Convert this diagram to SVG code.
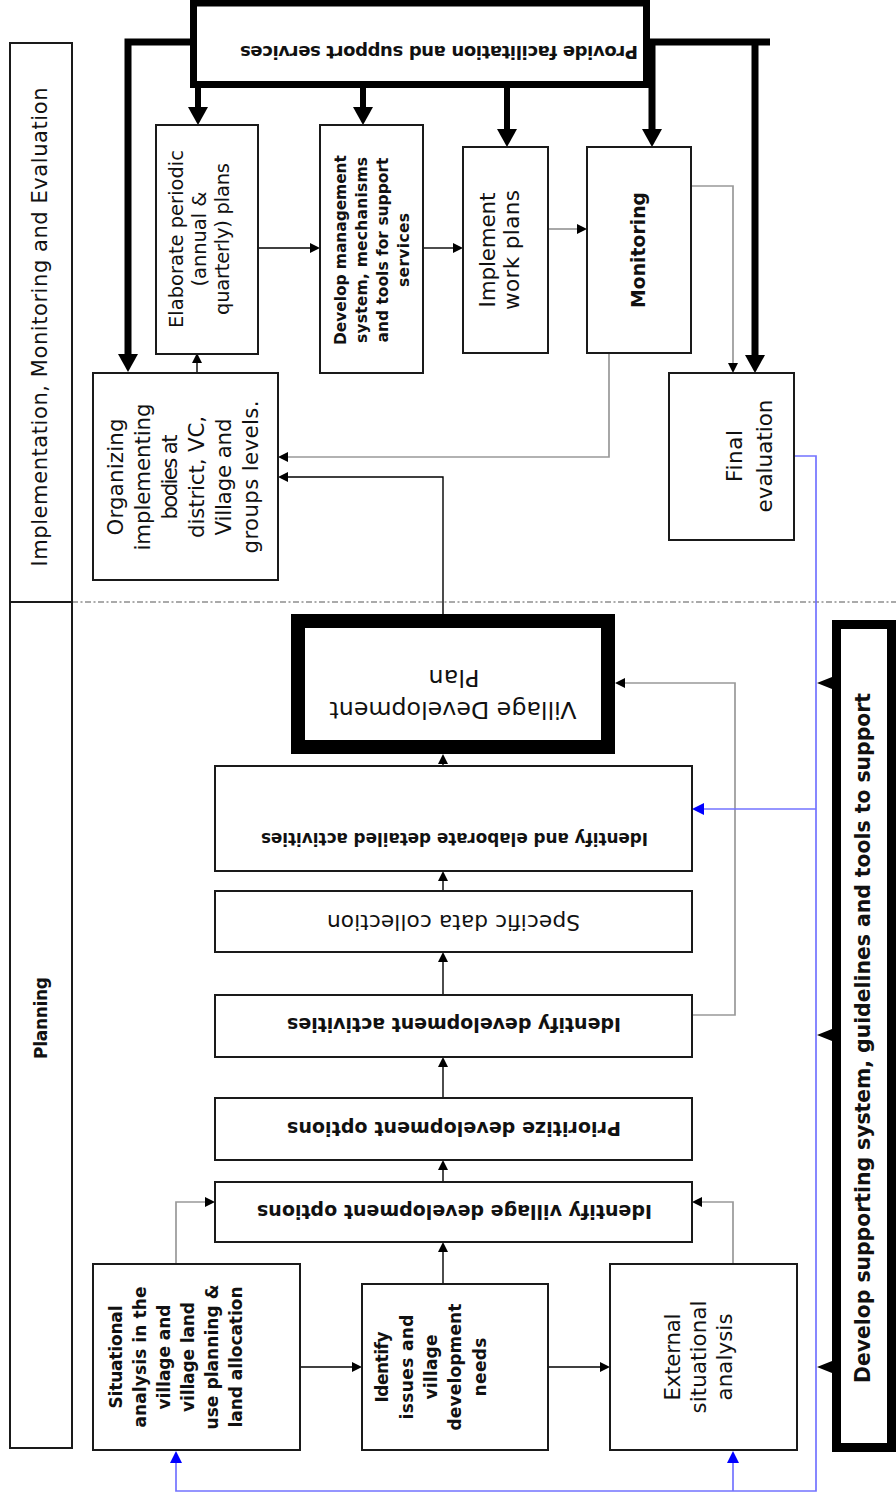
<svg xmlns="http://www.w3.org/2000/svg" width="896" height="1501" viewBox="0 0 896 1501">
<style>
.box{fill:#fff;stroke:#1a1a1a;stroke-width:2}
.t{font-family:"DejaVu Sans","Liberation Sans",sans-serif;fill:#111}
.b{font-weight:bold}
.thick{fill:none;stroke:#000;stroke-width:7;stroke-linejoin:miter}
.stem{fill:none;stroke:#000;stroke-width:6}
.ln{fill:none;stroke:#000;stroke-width:1.4}
.gray{fill:none;stroke:#999;stroke-width:1.7}
.blue{fill:none;stroke:#7373ff;stroke-width:1.7}
.dash{fill:none;stroke:#aaa;stroke-width:2;stroke-dasharray:6 2.5 2 2.5}
</style>
<defs>
<marker id="ah" markerUnits="userSpaceOnUse" markerWidth="10" markerHeight="10" refX="0" refY="5" orient="auto" overflow="visible"><path d="M0,0 L10,5 L0,10 z" fill="#000"/></marker>
<marker id="aht" markerUnits="userSpaceOnUse" markerWidth="18" markerHeight="20" refX="0" refY="10" orient="auto" overflow="visible"><path d="M0,0 L18,10 L0,20 z" fill="#000"/></marker>
<marker id="ahb" markerUnits="userSpaceOnUse" markerWidth="12" markerHeight="12" refX="0" refY="6" orient="auto" overflow="visible"><path d="M0,0 L12,6 L0,12 z" fill="#0000ff"/></marker>
</defs>
<rect width="896" height="1501" fill="#fff"/>

<line class="dash" x1="72" y1="602" x2="896" y2="602"/>

<g id="connectors">
<path class="thick" d="M190,42 H128 V354" marker-end="url(#aht)"/>
<path class="thick" d="M648,42 H770"/>
<path class="thick" d="M755,42 V355" marker-end="url(#aht)"/>
<path class="thick" d="M652,42 V129" marker-end="url(#aht)"/>
<path class="stem" d="M198,88 V107" marker-end="url(#aht)"/>
<path class="stem" d="M363,88 V107" marker-end="url(#aht)"/>
<path class="stem" d="M507,88 V129" marker-end="url(#aht)"/>

<path class="ln" d="M258,248 H310" marker-end="url(#ah)"/>
<path class="ln" d="M423,248 H453" marker-end="url(#ah)"/>
<path class="ln" d="M197,373 V363" marker-end="url(#ah)"/>
<path class="ln" d="M443,614 V477 H288" marker-end="url(#ah)"/>
<path class="ln" d="M443,767 V764" marker-end="url(#ah)"/>
<path class="ln" d="M443,891 V881" marker-end="url(#ah)"/>
<path class="ln" d="M443,995 V962" marker-end="url(#ah)"/>
<path class="ln" d="M443,1098 V1067" marker-end="url(#ah)"/>
<path class="ln" d="M443,1182 V1170" marker-end="url(#ah)"/>
<path class="ln" d="M443,1284 V1252" marker-end="url(#ah)"/>
<path class="ln" d="M300,1367 H352" marker-end="url(#ah)"/>
<path class="ln" d="M548,1367 H600" marker-end="url(#ah)"/>

<path class="gray" d="M548,229 H577" marker-end="url(#ah)"/>
<path class="gray" d="M690,186 H733 V363" marker-end="url(#ah)"/>
<path class="gray" d="M609,353 V457 H288" marker-end="url(#ah)"/>
<path class="gray" d="M692,1015 H735 V683 H625" marker-end="url(#ah)"/>
<path class="gray" d="M176,1264 V1202 H205" marker-end="url(#ah)"/>
<path class="gray" d="M733,1264 V1202 H702" marker-end="url(#ah)"/>

<path class="blue" d="M795,456 H816 V1491 H176 V1463" marker-end="url(#ahb)"/>
<path class="blue" d="M733,1491 V1463" marker-end="url(#ahb)"/>
<path class="blue" d="M816,809 H704" marker-end="url(#ahb)"/>

<path d="M832,677 L817,683 L832,689 z" fill="#000"/>
<path d="M832,1029 L817,1035 L832,1041 z" fill="#000"/>
<path d="M832,1361 L817,1367 L832,1373 z" fill="#000"/>
</g>

<g id="lane-implementation">
<rect class="box" x="10" y="43" width="62" height="559"/>
<g transform="translate(0 327) rotate(-90)"><text class="t" x="0" y="47" font-size="21" text-anchor="middle" textLength="479" lengthAdjust="spacing">Implementation, Monitoring and Evaluation</text></g>
</g>
<g id="lane-planning">
<rect class="box" x="10" y="602" width="62" height="846"/>
<g transform="translate(0 1018) rotate(-90)"><text class="t b" x="0" y="47" font-size="17" text-anchor="middle" textLength="82" lengthAdjust="spacing">Planning</text></g>
</g>

<g id="provide-facilitation">
<rect x="193.5" y="3" width="453" height="81.5" fill="#fff" stroke="#000" stroke-width="7"/>
<text class="t b" transform="rotate(180)" x="-439" y="-46" font-size="18" text-anchor="middle" textLength="398" lengthAdjust="spacing">Provide facilitation and support services</text>
</g>

<g id="elaborate-plans">
<rect class="box" x="156" y="125" width="102" height="229"/>
<g transform="translate(0 239) rotate(-90)" class="t" font-size="19.5" text-anchor="middle">
<text x="0" y="183" textLength="178" lengthAdjust="spacing">Elaborate periodic</text>
<text x="0" y="206" textLength="95" lengthAdjust="spacing">(annual &amp;</text>
<text x="0" y="229" textLength="152" lengthAdjust="spacing">quarterly) plans</text>
</g>
</g>

<g id="develop-management">
<rect class="box" x="320" y="125" width="103" height="248"/>
<g transform="translate(0 250) rotate(-90)" class="t b" font-size="15.5" text-anchor="middle">
<text x="0" y="346" textLength="190" lengthAdjust="spacing">Develop management</text>
<text x="0" y="367" textLength="186" lengthAdjust="spacing">system, mechanisms</text>
<text x="0" y="388" textLength="185" lengthAdjust="spacing">and tools for support</text>
<text x="0" y="409" textLength="74" lengthAdjust="spacing">services</text>
</g>
</g>

<g id="implement-work-plans">
<rect class="box" x="463" y="147" width="85" height="206"/>
<g transform="translate(0 250) rotate(-90)" class="t" font-size="21.5" text-anchor="middle">
<text x="0" y="495" textLength="115" lengthAdjust="spacing">Implement</text>
<text x="0" y="519" textLength="120" lengthAdjust="spacing">work plans</text>
</g>
</g>

<g id="monitoring">
<rect class="box" x="587" y="147" width="104" height="206"/>
<g transform="translate(0 250) rotate(-90)" class="t b" font-size="18.8" text-anchor="middle">
<text x="0" y="645" textLength="116" lengthAdjust="spacing">Monitoring</text>
</g>
</g>

<g id="final-evaluation">
<rect class="box" x="669" y="373" width="125" height="167"/>
<g transform="translate(0 456) rotate(-90)" class="t" font-size="21.5" text-anchor="middle">
<text x="0" y="742" textLength="52" lengthAdjust="spacing">Final</text>
<text x="0" y="772" textLength="113" lengthAdjust="spacing">evaluation</text>
</g>
</g>

<g id="organizing-bodies">
<rect class="box" x="93" y="373" width="185" height="207"/>
<g transform="translate(0 477) rotate(-90)" class="t" font-size="21.3" text-anchor="middle">
<text x="0" y="123" textLength="117" lengthAdjust="spacing">Organizing</text>
<text x="0" y="150" textLength="147" lengthAdjust="spacing">implementing</text>
<text x="0" y="177" textLength="85" lengthAdjust="spacing">bodies at</text>
<text x="0" y="204" textLength="122" lengthAdjust="spacing">district, VC,</text>
<text x="0" y="231" textLength="117" lengthAdjust="spacing">Village and</text>
<text x="0" y="258" textLength="153" lengthAdjust="spacing">groups levels.</text>
</g>
</g>

<g id="village-development-plan">
<rect x="298" y="621" width="310" height="126" fill="#fff" stroke="#000" stroke-width="14"/>
<text class="t" transform="rotate(180)" x="-453" y="-702" font-size="23.7" text-anchor="middle" textLength="247" lengthAdjust="spacing">Village Development</text>
<text class="t" transform="rotate(180)" x="-454" y="-670" font-size="23.7" text-anchor="middle" textLength="51" lengthAdjust="spacing">Plan</text>
</g>

<g id="identify-elaborate-activities">
<rect class="box" x="215" y="766" width="477" height="105"/>
<text class="t b" transform="rotate(180)" x="-454.5" y="-833" font-size="16.8" text-anchor="middle" textLength="387" lengthAdjust="spacing">Identify and elaborate detailed activities</text>
</g>

<g id="specific-data-collection">
<rect class="box" x="215" y="891" width="477" height="61"/>
<text class="t" transform="rotate(180)" x="-453.5" y="-915" font-size="21.7" text-anchor="middle" textLength="253" lengthAdjust="spacing">Specific data collection</text>
</g>

<g id="identify-development-activities">
<rect class="box" x="215" y="995" width="477" height="62"/>
<text class="t b" transform="rotate(180)" x="-454" y="-1018" font-size="19" text-anchor="middle" textLength="334" lengthAdjust="spacing">Identify development activities</text>
</g>

<g id="prioritize-options">
<rect class="box" x="215" y="1098" width="477" height="62"/>
<text class="t b" transform="rotate(180)" x="-454" y="-1122" font-size="19" text-anchor="middle" textLength="334" lengthAdjust="spacing">Prioritize development options</text>
</g>

<g id="identify-village-options">
<rect class="box" x="215" y="1182" width="477" height="60"/>
<text class="t b" transform="rotate(180)" x="-454.5" y="-1205" font-size="19" text-anchor="middle" textLength="395" lengthAdjust="spacing">Identify village development options</text>
</g>

<g id="situational-analysis">
<rect class="box" x="93" y="1264" width="207" height="186"/>
<g transform="translate(0 1357) rotate(-90)" class="t b" font-size="17" text-anchor="middle">
<text x="0" y="122" textLength="103" lengthAdjust="spacing">Situational</text>
<text x="0" y="146" textLength="141" lengthAdjust="spacing">analysis in the</text>
<text x="0" y="170" textLength="105" lengthAdjust="spacing">village and</text>
<text x="0" y="194" textLength="110" lengthAdjust="spacing">village land</text>
<text x="0" y="218" textLength="145" lengthAdjust="spacing">use planning &amp;</text>
<text x="0" y="242" textLength="141" lengthAdjust="spacing">land allocation</text>
</g>
</g>

<g id="identify-issues">
<rect class="box" x="362" y="1284" width="186" height="166"/>
<g transform="translate(0 1367) rotate(-90)" class="t b" font-size="17" text-anchor="middle">
<text x="0" y="388" textLength="71" lengthAdjust="spacing">Identify</text>
<text x="0" y="413" textLength="105" lengthAdjust="spacing">issues and</text>
<text x="0" y="437" textLength="65" lengthAdjust="spacing">village</text>
<text x="0" y="461" textLength="127" lengthAdjust="spacing">development</text>
<text x="0" y="486" textLength="59" lengthAdjust="spacing">needs</text>
</g>
</g>

<g id="external-analysis">
<rect class="box" x="610" y="1264" width="187" height="186"/>
<g transform="translate(0 1357) rotate(-90)" class="t" font-size="21.3" text-anchor="middle">
<text x="0" y="680" textLength="87" lengthAdjust="spacing">External</text>
<text x="0" y="706" textLength="113" lengthAdjust="spacing">situational</text>
<text x="0" y="732" textLength="87" lengthAdjust="spacing">analysis</text>
</g>
</g>

<g id="develop-supporting-system">
<rect x="836.5" y="624.5" width="55" height="823" fill="#fff" stroke="#000" stroke-width="9"/>
<g transform="translate(0 1038) rotate(-90)"><text class="t b" x="0" y="870" font-size="20.4" text-anchor="middle" textLength="690" lengthAdjust="spacing">Develop supporting system, guidelines and tools to support</text></g>
</g>
</svg>
